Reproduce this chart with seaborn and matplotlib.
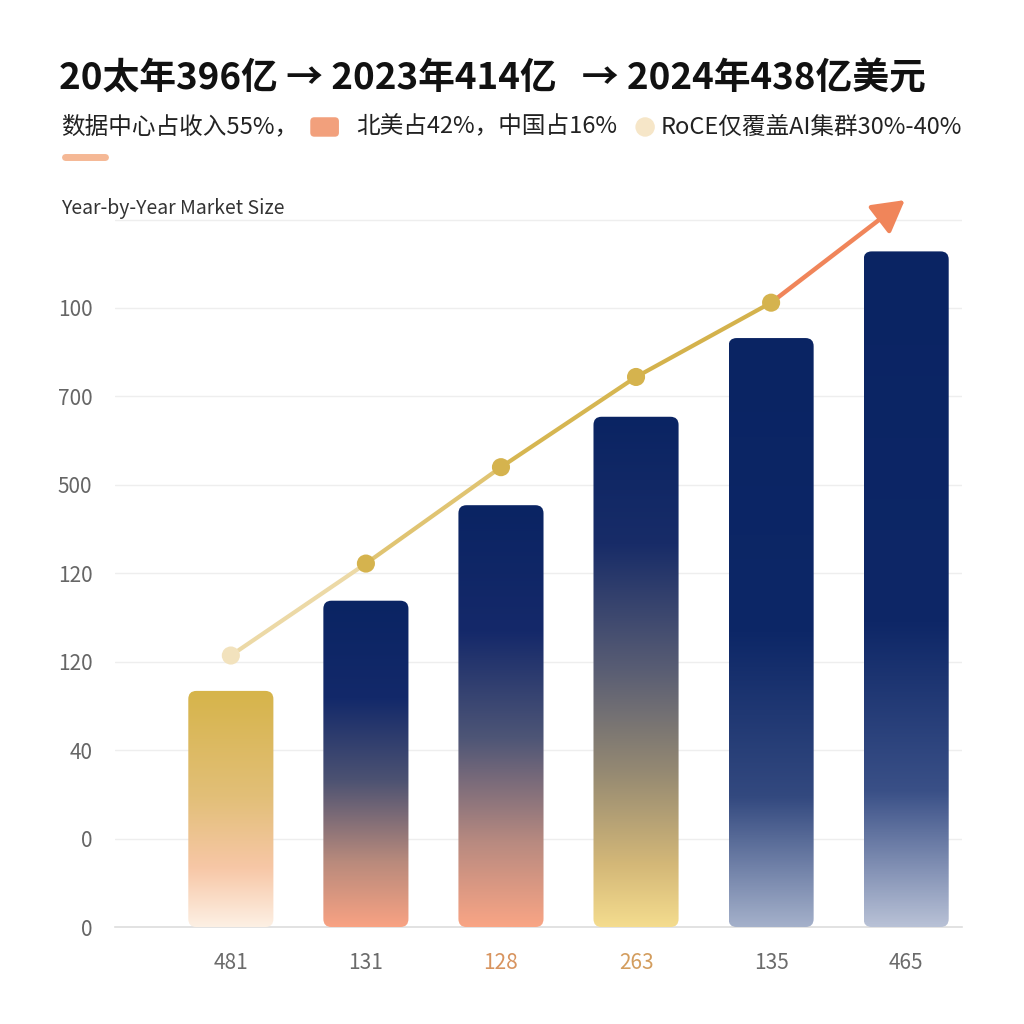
import matplotlib
matplotlib.use("Agg")
import matplotlib.pyplot as plt
import seaborn as sns
import numpy as np
import pandas as pd
from matplotlib.colors import LinearSegmentedColormap
from matplotlib.patches import FancyBboxPatch
from matplotlib.collections import LineCollection

# data
x_labels = ["481", "131", "128", "263", "135", "465"]
bar_values = [2.67, 3.69, 4.77, 5.77, 6.66, 7.64]
line_values = [3.07, 4.11, 5.20, 6.22, 7.06]
arrow_end = (4.99, 8.22)
y_ticks = [0, 1, 2, 3, 4, 5, 6, 7, 8]
y_tick_labels = ["0", "0", "40", "120", "120", "500", "700", "100", ""]
x_label_colors = ["#6b6b6b", "#6b6b6b", "#d8945f", "#d39d5e", "#6b6b6b", "#6b6b6b"]

# gradient stops per bar (position from top 0 -> bottom 1)
bar_gradients = [
    [(0.0, "#d6b44a"), (0.45, "#e2bf78"), (0.75, "#f7c7a6"), (1.0, "#fdf0e4")],
    [(0.0, "#0a2463"), (0.3, "#13296a"), (0.55, "#4c5272"), (0.8, "#b88a7c"), (1.0, "#f8a283")],
    [(0.0, "#0a2463"), (0.3, "#15296a"), (0.55, "#4d5576"), (0.8, "#b88a80"), (1.0, "#f9a585")],
    [(0.0, "#0a2463"), (0.25, "#182c68"), (0.5, "#5a5e74"), (0.7, "#968a72"), (0.88, "#d4b878"), (1.0, "#f4dc8e")],
    [(0.0, "#0a2463"), (0.5, "#0d2767"), (0.78, "#33497f"), (1.0, "#a4b0ca")],
    [(0.0, "#0a2463"), (0.55, "#0e2767"), (0.8, "#3a5087"), (1.0, "#b8c1d6")],
]

sns.set_theme(style="white")
plt.rcParams["font.family"] = ["Noto Sans CJK SC", "DejaVu Sans"]

fig = plt.figure(figsize=(10.24, 10.24), dpi=100)
fig.patch.set_facecolor("white")
ax = fig.add_axes([0.112, 0.0947, 0.827, 0.7168])

df = pd.DataFrame({"label": x_labels, "value": bar_values})
sns.barplot(data=df, x="label", y="value", order=x_labels, width=0.63,
            color="#0a2463", ax=ax, zorder=3)

xlim = (-0.86, 5.41)
ylim = (0, 8.3)

for patch, stops in zip(ax.patches, bar_gradients):
    bx, by = patch.get_x(), patch.get_y()
    bw, bh = patch.get_width(), patch.get_height()
    patch.set_visible(False)
    rounded = FancyBboxPatch((bx, by), bw, bh,
                             boxstyle="round,pad=0,rounding_size=0.06",
                             mutation_aspect=1.53, facecolor="none",
                             edgecolor="none", transform=ax.transData)
    ax.add_patch(rounded)
    cmap = LinearSegmentedColormap.from_list("g", stops)
    grad = np.linspace(1, 0, 256).reshape(-1, 1)
    im = ax.imshow(grad, extent=[bx, bx + bw, by, by + bh], aspect="auto",
                   cmap=cmap, origin="lower", zorder=3, vmin=0, vmax=1)
    im.set_clip_path(rounded)

# trend line
xs = np.arange(len(line_values))
pts = np.column_stack([xs, line_values])
segs = [pts[i:i + 2] for i in range(len(pts) - 1)]
seg_colors = ["#ecd9a6", "#e0c472", "#d6b651", "#d4b24c"]
lc = LineCollection(segs, colors=seg_colors, linewidths=3, zorder=4, capstyle="round")
ax.add_collection(lc)
sns.scatterplot(x=xs, y=line_values, ax=ax, s=170, zorder=5, legend=False,
                hue=xs, palette=["#f2e2bd", "#d5b34e", "#d5b34e", "#d5b34e", "#d5b34e"],
                edgecolor="none")
ax.annotate("", xy=arrow_end, xytext=(xs[-1], line_values[-1]),
            arrowprops=dict(arrowstyle="-|>,head_length=1.6,head_width=0.9",
                            color="#f0855a", lw=3.2, shrinkA=4, shrinkB=0),
            zorder=4, annotation_clip=False)

ax.set_xlim(*xlim)
ax.set_ylim(*ylim)
ax.set_yticks(y_ticks)
ax.set_yticklabels(y_tick_labels)
ax.tick_params(axis="y", length=0, pad=16, labelsize=15, labelcolor="#666666")
ax.tick_params(axis="x", length=0, pad=18, labelsize=15)
for lbl, c in zip(ax.get_xticklabels(), x_label_colors):
    lbl.set_color(c)
ax.set_xlabel("")
ax.set_ylabel("")
ax.grid(axis="y", color="#eeeeee", linewidth=1, zorder=0)
ax.set_axisbelow(True)
for s in ["top", "right", "left"]:
    ax.spines[s].set_visible(False)
ax.spines["bottom"].set_color("#dddddd")
ax.spines["bottom"].set_linewidth(1.2)

# headings
fig.text(0.058, 0.923, "20太年396亿 → 2023年414亿   → 2024年438亿美元",
         fontsize=26.5, fontweight="heavy", color="#111111", va="center")
sub_y = 0.876
fig.text(0.060, sub_y, "数据中心占收入55%，", fontsize=17, color="#222222", va="center")
fig.patches.append(FancyBboxPatch((0.303, sub_y - 0.0095), 0.028, 0.019,
                                  boxstyle="round,pad=0,rounding_size=0.004",
                                  transform=fig.transFigure, facecolor="#f2a07c",
                                  edgecolor="none", figure=fig))
fig.text(0.348, sub_y, "北美占42%，中国占16%", fontsize=17, color="#222222", va="center")
fig.patches.append(plt.Circle((0.630, sub_y), 0.0095, transform=fig.transFigure,
                              facecolor="#f6e6c8", edgecolor="none", figure=fig))
fig.text(0.645, sub_y, "RoCE仅覆盖AI集群30%-40%", fontsize=17, color="#222222", va="center")
fig.lines.append(plt.Line2D([0.063, 0.103], [0.847, 0.847], transform=fig.transFigure,
                            color="#f5b895", linewidth=5, solid_capstyle="round", figure=fig))
fig.text(0.060, 0.796, "Year-by-Year Market Size", fontsize=14, color="#333333", va="center")

fig.savefig("out.png", dpi=100, facecolor="white")
